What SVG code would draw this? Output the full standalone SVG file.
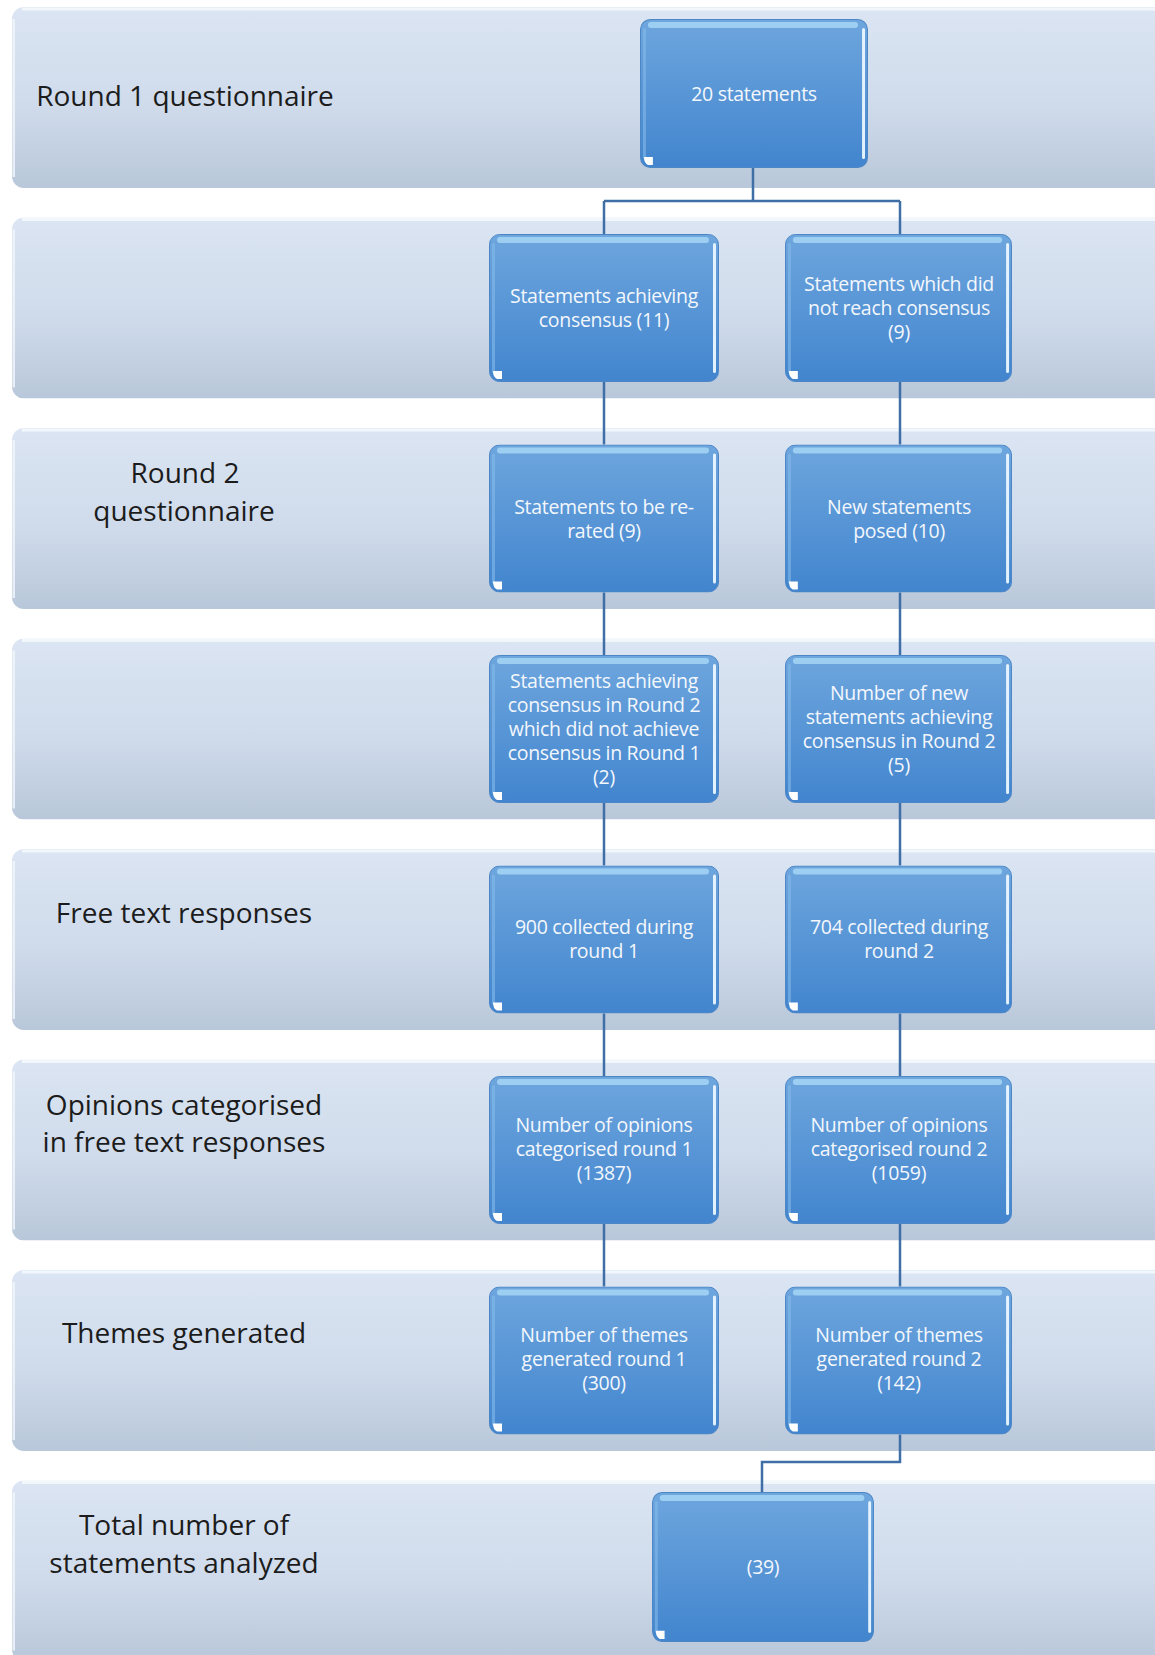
<svg xmlns="http://www.w3.org/2000/svg" width="1155" height="1655" viewBox="0 0 1155 1655">
<defs>
<linearGradient id="bandGrad" x1="0" y1="0" x2="0" y2="1">
<stop offset="0" stop-color="#dbe5f3"/>
<stop offset="0.55" stop-color="#cfdbeb"/>
<stop offset="1" stop-color="#b8c7d9"/>
</linearGradient>
<linearGradient id="cardGrad" x1="0" y1="0" x2="0" y2="1">
<stop offset="0" stop-color="#6ea6de"/>
<stop offset="1" stop-color="#4285ce"/>
</linearGradient>
<symbol id="band" viewBox="0 0 1160 181" preserveAspectRatio="none">
<rect x="0" y="0" width="1160" height="181" rx="12" fill="url(#bandGrad)"/>
<rect x="10" y="0.5" width="1150" height="3" fill="#f4f8fd" opacity="0.9"/>
<rect x="0.5" y="12" width="2.5" height="158" fill="#f2f6fb" opacity="0.8"/>
</symbol>
<symbol id="card" viewBox="0 0 230 148" preserveAspectRatio="none">
<rect x="0.5" y="0.5" width="229" height="147" rx="10" fill="url(#cardGrad)" stroke="#4d86c5" stroke-width="1"/>
<rect x="8" y="3" width="212" height="6" rx="3" fill="#a6d6f6" opacity="0.85"/>
<rect x="224" y="9" width="3" height="130" rx="1.5" fill="#eaf7ff" opacity="0.95"/>
<rect x="3" y="9" width="3" height="130" rx="1.5" fill="#86bbea" opacity="0.6"/>
<path d="M4 137 L13 137 L13 145 L8 145 Q4 143 4 137 Z" fill="#ffffff"/>
</symbol>
</defs>
<style>
.lbl{font-family:"Open Sans","Noto Sans","Liberation Sans",sans-serif;font-size:28px;fill:#1c1c1c;text-anchor:middle}
.bt{font-family:"Open Sans","Noto Sans","Liberation Sans",sans-serif;font-size:19.5px;fill:#f3f7fc;text-anchor:middle;letter-spacing:-0.3px}
.conn{fill:none;stroke:#3f6fa6;stroke-width:2.5}
</style>
<rect width="1155" height="1655" fill="#ffffff"/>

<g id="bands">
<use href="#band" x="12" y="7" width="1160" height="181"/>
<use href="#band" x="12" y="217.5" width="1160" height="181"/>
<use href="#band" x="12" y="428" width="1160" height="181"/>
<use href="#band" x="12" y="638.5" width="1160" height="181"/>
<use href="#band" x="12" y="849" width="1160" height="181"/>
<use href="#band" x="12" y="1059.5" width="1160" height="181"/>
<use href="#band" x="12" y="1270" width="1160" height="181"/>
<use href="#band" x="12" y="1480.5" width="1160" height="181"/>
</g>

<g id="labels">
<text class="lbl" x="185" y="106">Round 1 questionnaire</text>
<text class="lbl" x="185" y="483">Round 2</text>
<text class="lbl" x="184" y="521">questionnaire</text>
<text class="lbl" x="184" y="923">Free text responses</text>
<text class="lbl" x="184" y="1115">Opinions categorised</text>
<text class="lbl" x="184" y="1152">in free text responses</text>
<text class="lbl" x="184" y="1343">Themes generated</text>
<text class="lbl" x="184" y="1535">Total number of</text>
<text class="lbl" x="184" y="1573">statements analyzed</text>
</g>

<g id="connectors">
<path class="conn" d="M753 168 V201 M604 201 H900 M604 201 V234 M900 201 V234"/>
<path class="conn" d="M604 382 V444.5 M604 592.5 V655 M604 803 V865.5 M604 1013.5 V1076 M604 1224 V1286.5"/>
<path class="conn" d="M900 382 V444.5 M900 592.5 V655 M900 803 V865.5 M900 1013.5 V1076 M900 1224 V1286.5"/>
<path class="conn" d="M900 1434.5 V1462 H762 V1492"/>
</g>

<g id="n-20">
<use href="#card" x="640" y="19" width="228" height="149"/>
<text class="bt" x="754" y="101">20 statements</text>
</g>

<g id="n-consensus11">
<use href="#card" x="489" y="234" width="230" height="148"/>
<text class="bt" x="604" y="303">Statements achieving</text>
<text class="bt" x="604" y="327">consensus (11)</text>
</g>
<g id="n-noconsensus9">
<use href="#card" x="785" y="234" width="227" height="148"/>
<text class="bt" x="899" y="291">Statements which did</text>
<text class="bt" x="899" y="315">not reach consensus</text>
<text class="bt" x="899" y="339">(9)</text>
</g>

<g id="n-rerated">
<use href="#card" x="489" y="444.5" width="230" height="148"/>
<text class="bt" x="604" y="514">Statements to be re-</text>
<text class="bt" x="604" y="538">rated (9)</text>
</g>
<g id="n-new10">
<use href="#card" x="785" y="444.5" width="227" height="148"/>
<text class="bt" x="899" y="514">New statements</text>
<text class="bt" x="899" y="538">posed (10)</text>
</g>

<g id="n-r2consensus">
<use href="#card" x="489" y="655" width="230" height="148"/>
<text class="bt" x="604" y="688">Statements achieving</text>
<text class="bt" x="604" y="712">consensus in Round 2</text>
<text class="bt" x="604" y="736">which did not achieve</text>
<text class="bt" x="604" y="760">consensus in Round 1</text>
<text class="bt" x="604" y="784">(2)</text>
</g>
<g id="n-new5">
<use href="#card" x="785" y="655" width="227" height="148"/>
<text class="bt" x="899" y="700">Number of new</text>
<text class="bt" x="899" y="724">statements achieving</text>
<text class="bt" x="899" y="748">consensus in Round 2</text>
<text class="bt" x="899" y="772">(5)</text>
</g>

<g id="n-900">
<use href="#card" x="489" y="865.5" width="230" height="148"/>
<text class="bt" x="604" y="934">900 collected during</text>
<text class="bt" x="604" y="958">round 1</text>
</g>
<g id="n-704">
<use href="#card" x="785" y="865.5" width="227" height="148"/>
<text class="bt" x="899" y="934">704 collected during</text>
<text class="bt" x="899" y="958">round 2</text>
</g>

<g id="n-op1">
<use href="#card" x="489" y="1076" width="230" height="148"/>
<text class="bt" x="604" y="1132">Number of opinions</text>
<text class="bt" x="604" y="1156">categorised round 1</text>
<text class="bt" x="604" y="1180">(1387)</text>
</g>
<g id="n-op2">
<use href="#card" x="785" y="1076" width="227" height="148"/>
<text class="bt" x="899" y="1132">Number of opinions</text>
<text class="bt" x="899" y="1156">categorised round 2</text>
<text class="bt" x="899" y="1180">(1059)</text>
</g>

<g id="n-th1">
<use href="#card" x="489" y="1286.5" width="230" height="148"/>
<text class="bt" x="604" y="1342">Number of themes</text>
<text class="bt" x="604" y="1366">generated round 1</text>
<text class="bt" x="604" y="1390">(300)</text>
</g>
<g id="n-th2">
<use href="#card" x="785" y="1286.5" width="227" height="148"/>
<text class="bt" x="899" y="1342">Number of themes</text>
<text class="bt" x="899" y="1366">generated round 2</text>
<text class="bt" x="899" y="1390">(142)</text>
</g>

<g id="n-39">
<use href="#card" x="652" y="1492" width="222" height="150"/>
<text class="bt" x="763" y="1574">(39)</text>
</g>
</svg>
